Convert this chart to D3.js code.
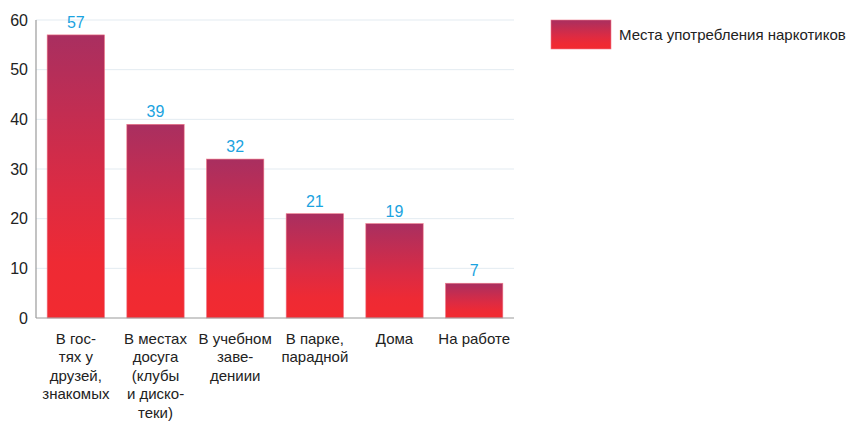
<!DOCTYPE html>
<html>
<head>
<meta charset="utf-8">
<script src="https://cdn.jsdelivr.net/npm/d3@7"></script>
<style>
  body { margin: 0; background: #fff; }
  svg { display: block; font-family: "Liberation Sans", Arial, sans-serif; }
</style>
</head>
<body>
<svg id="chart" width="851" height="423"></svg>
<script>
// data
const categories = [
  ['В гос-', 'тях у', 'друзей,', 'знакомых'],
  ['В местах', 'досуга', '(клубы', 'и диско-', 'теки)'],
  ['В учебном', 'заве-', 'дениии'],
  ['В парке,', 'парадной'],
  ['Дома'],
  ['На работе']
];
const values = [57, 39, 32, 21, 19, 7];
const yTicks = [0, 10, 20, 30, 40, 50, 60];
const seriesName = 'Места употребления наркотиков';

const svg = d3.select('#chart');
const margin = { top: 20, left: 36 };
const plotW = 478, plotH = 298;

const defs = svg.append('defs');
const grad = defs.append('linearGradient')
  .attr('id', 'barGrad')
  .attr('x1', 0).attr('y1', 0).attr('x2', 0).attr('y2', 1);
grad.append('stop').attr('offset', '0%').attr('stop-color', '#a92f60');
grad.append('stop').attr('offset', '55%').attr('stop-color', '#dc2b43');
grad.append('stop').attr('offset', '80%').attr('stop-color', '#ee2a34');
grad.append('stop').attr('offset', '100%').attr('stop-color', '#f22a30');

const x = d3.scaleBand()
  .domain(d3.range(values.length))
  .range([0, plotW])
  .paddingInner(0.28)
  .paddingOuter(0.14);

const y = d3.scaleLinear()
  .domain([0, 60])
  .range([plotH, 0]);

const g = svg.append('g')
  .attr('transform', `translate(${margin.left},${margin.top})`);

// gridlines
g.selectAll('.grid')
  .data(yTicks.filter(t => t > 0))
  .enter().append('line')
    .attr('x1', 0).attr('x2', plotW)
    .attr('y1', d => y(d)).attr('y2', d => y(d))
    .attr('stroke', '#e3ebf1')
    .attr('stroke-width', 1);

// y axis labels
const yAxis = g.append('g')
  .call(d3.axisLeft(y).tickValues(yTicks).tickSize(0).tickPadding(8));
yAxis.select('.domain').remove();
yAxis.selectAll('text')
  .attr('font-size', '16px')
  .attr('font-family', '"Liberation Sans", Arial, sans-serif')
  .attr('fill', '#222');

// bars
g.selectAll('.bar')
  .data(values)
  .enter().append('rect')
    .attr('class', 'bar')
    .attr('x', (d, i) => x(i))
    .attr('y', d => y(d))
    .attr('width', x.bandwidth())
    .attr('height', d => plotH - y(d))
    .attr('fill', 'url(#barGrad)')
    .attr('stroke', '#f07a8a')
    .attr('stroke-width', 0.6);

// value labels
g.selectAll('.val')
  .data(values)
  .enter().append('text')
    .attr('x', (d, i) => x(i) + x.bandwidth() / 2)
    .attr('y', d => y(d) - 7)
    .attr('text-anchor', 'middle')
    .attr('font-size', '16px')
    .attr('fill', '#1ba3e0')
    .text(d => d);

// axis lines
g.append('line')
  .attr('x1', 0).attr('x2', 0)
  .attr('y1', 0).attr('y2', plotH)
  .attr('stroke', '#9a9a9a').attr('stroke-width', 1.2);
g.append('line')
  .attr('x1', 0).attr('x2', plotW)
  .attr('y1', plotH).attr('y2', plotH)
  .attr('stroke', '#9a9a9a').attr('stroke-width', 1.2);

// category labels
const cat = g.selectAll('.cat')
  .data(categories)
  .enter().append('text')
    .attr('text-anchor', 'middle')
    .attr('font-size', '15px')
    .attr('fill', '#222')
    .attr('transform', (d, i) => `translate(${x(i) + x.bandwidth() / 2},${plotH + 26})`);
cat.selectAll('tspan')
  .data(d => d)
  .enter().append('tspan')
    .attr('x', 0)
    .attr('y', (d, i) => i * 18.4)
    .text(d => d);

// legend
svg.append('rect')
  .attr('x', 551).attr('y', 20)
  .attr('width', 60).attr('height', 29)
  .attr('fill', 'url(#barGrad)')
  .attr('stroke', '#f07a8a').attr('stroke-width', 0.6);
svg.append('text')
  .attr('x', 619).attr('y', 40)
  .attr('font-size', '15px')
  .attr('fill', '#222')
  .text(seriesName);
</script>
</body>
</html>
